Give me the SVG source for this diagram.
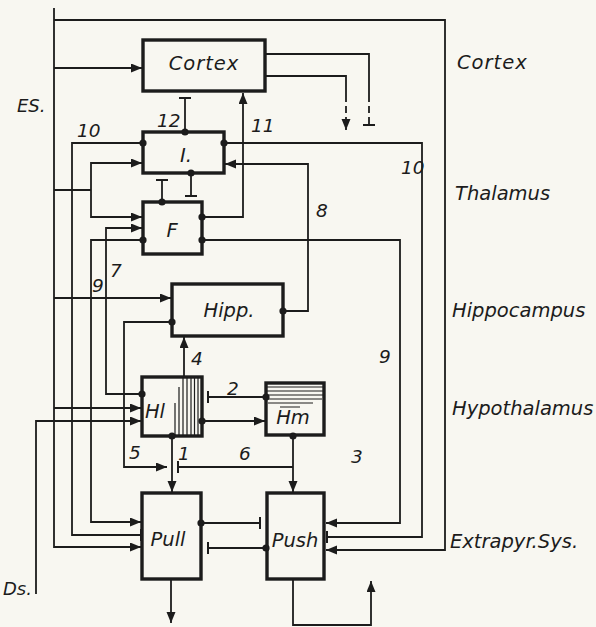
<svg xmlns="http://www.w3.org/2000/svg" width="596" height="627" viewBox="0 0 596 627">
<defs>
<style>
.bg{fill:#f8f7f1}
.box{fill:none;stroke:#1c1c1c;stroke-width:3.4}
.c{fill:none;stroke:#1c1c1c;stroke-width:1.8}
.dash{stroke-dasharray:7 4}
.h{stroke:#1c1c1c;stroke-width:1.2}
.dot{fill:#1c1c1c}
text{font-family:"DejaVu Sans","Liberation Sans",sans-serif;font-style:italic;fill:#1c1c1c}
.lb{font-size:19.5px}
.num{font-size:18.5px}
.side{font-size:19.5px}
.io{font-size:18px}
</style>
<marker id="arr" markerUnits="userSpaceOnUse" markerWidth="12" markerHeight="10" refX="11" refY="4.5" orient="auto" viewBox="0 0 12 10">
<path d="M0,0 L11,4.5 L0,9 z" fill="#1c1c1c"/>
</marker>
<marker id="bar" markerUnits="userSpaceOnUse" markerWidth="4" markerHeight="14" refX="1" refY="6" orient="auto" viewBox="0 0 4 14">
<path d="M1,0 V12" stroke="#1c1c1c" stroke-width="2" fill="none" stroke-dasharray="none"/>
</marker>
</defs>
<rect class="bg" x="0" y="0" width="596" height="627"/>

<g id="connectors">
<path class="c" d="M54,8 V547 H141" marker-end="url(#arr)"/>
<path class="c" d="M54,20 H445 V550 H326" marker-end="url(#arr)"/>
<path class="c" d="M54,68 H142" marker-end="url(#arr)"/>
<path class="c" d="M54,190 H91"/>
<path class="c" d="M91,190 V163 H142" marker-end="url(#arr)"/>
<path class="c" d="M91,190 V217 H142" marker-end="url(#arr)"/>
<path class="c" d="M54,298 H171" marker-end="url(#arr)"/>
<path class="c" d="M54,408 H141" marker-end="url(#arr)"/>
<path class="c" d="M36,594 V421 H141" marker-end="url(#arr)"/>
<path class="c" d="M143,143 H72 V535 H141" marker-end="url(#bar)"/>
<path class="c" d="M224,143 H422 V537 H327" marker-end="url(#bar)"/>
<path class="c" d="M143,240 H91 V522 H141" marker-end="url(#arr)"/>
<path class="c" d="M202,240 H400 V523 H326" marker-end="url(#arr)"/>
<path class="c" d="M202,217 H243 V93" marker-end="url(#arr)"/>
<path class="c" d="M185,132 V98" marker-end="url(#bar)"/>
<path class="c" d="M191,173 V196" marker-end="url(#bar)"/>
<path class="c" d="M162,202 V180" marker-end="url(#bar)"/>
<path class="c" d="M283,311 H308 V164 H225" marker-end="url(#arr)"/>
<path class="c" d="M142,394 H106 V228 H142" marker-end="url(#arr)"/>
<path class="c" d="M172,322 H124 V467 H167" marker-end="url(#arr)"/>
<path class="c" d="M184,377 V337" marker-end="url(#arr)"/>
<path class="c" d="M202,421 H265" marker-end="url(#arr)"/>
<path class="c" d="M266,397 H208" marker-end="url(#bar)"/>
<path class="c" d="M172,436 V492" marker-end="url(#arr)"/>
<path class="c" d="M293,436 V492" marker-end="url(#arr)"/>
<path class="c" d="M293,467 H178" marker-end="url(#bar)"/>
<path class="c" d="M201,523 H260" marker-end="url(#bar)"/>
<path class="c" d="M266,548 H208" marker-end="url(#bar)"/>
<path class="c" d="M171,579 V623" marker-end="url(#arr)"/>
<path class="c" d="M293,579 V625 H371 V581" marker-end="url(#arr)"/>
<path class="c" d="M265,54 H369 V95"/>
<path class="c dash" d="M369,95 V125" marker-end="url(#bar)"/>
<path class="c" d="M265,76 H346 V95"/>
<path class="c dash" d="M346,95 V130" marker-end="url(#arr)"/>
<g id="junctions">
<circle class="dot" cx="143" cy="143" r="3.6"/>
<circle class="dot" cx="224" cy="143" r="3.6"/>
<circle class="dot" cx="185" cy="132" r="3.6"/>
<circle class="dot" cx="191" cy="173" r="3.6"/>
<circle class="dot" cx="162" cy="202" r="3.6"/>
<circle class="dot" cx="143" cy="240" r="3.6"/>
<circle class="dot" cx="202" cy="240" r="3.6"/>
<circle class="dot" cx="202" cy="217" r="3.6"/>
<circle class="dot" cx="283" cy="311" r="3.6"/>
<circle class="dot" cx="172" cy="322" r="3.6"/>
<circle class="dot" cx="142" cy="394" r="3.6"/>
<circle class="dot" cx="202" cy="421" r="3.6"/>
<circle class="dot" cx="172" cy="436" r="3.6"/>
<circle class="dot" cx="266" cy="397" r="3.6"/>
<circle class="dot" cx="293" cy="436" r="3.6"/>
<circle class="dot" cx="201" cy="523" r="3.6"/>
<circle class="dot" cx="266" cy="548" r="3.6"/>
</g>
</g>

<g id="cortex">
<rect class="box" x="143" y="40" width="122" height="51"/>
<text class="lb" x="204" y="70" text-anchor="middle" letter-spacing="1">Cortex</text>
</g>
<g id="thalamus-I">
<rect class="box" x="143" y="132" width="81" height="41"/>
<text class="lb" x="186" y="162" text-anchor="middle">I.</text>
</g>
<g id="thalamus-F">
<rect class="box" x="143" y="202" width="59" height="52"/>
<text class="lb" x="172" y="237" text-anchor="middle">F</text>
</g>
<g id="hipp">
<rect class="box" x="172" y="284" width="111" height="52"/>
<text class="lb" x="229" y="317" text-anchor="middle">Hipp.</text>
</g>
<g id="hl">
<rect class="box" x="142" y="377" width="60" height="59"/>
<path class="h" d="M175,403 V436 M179,387 V436 M183,377 V436 M187,377 V436 M191,377 V436 M194.5,377 V436 M198,377 V436"/>
<text class="lb" x="155" y="418" text-anchor="middle">Hl</text>
</g>
<g id="hm">
<rect class="box" x="266" y="383" width="58" height="52"/>
<path class="h" d="M266,387 H324 M266,391 H324 M266,395 H324 M266,399 H322 M268,403 H313 M280,407 H300"/>
<text class="lb" x="293" y="424" text-anchor="middle">Hm</text>
</g>
<g id="pull">
<rect class="box" x="142" y="493" width="59" height="86"/>
<text class="lb" x="168" y="546" text-anchor="middle">Pull</text>
</g>
<g id="push">
<rect class="box" x="267" y="493" width="57" height="86"/>
<text class="lb" x="295" y="547" text-anchor="middle">Push</text>
</g>

<g id="labels">
<text class="num" x="77" y="137">10</text>
<text class="num" x="157" y="127">12</text>
<text class="num" x="251" y="132">11</text>
<text class="num" x="401" y="174">10</text>
<text class="num" x="316" y="217">8</text>
<text class="num" x="92" y="292">9</text>
<text class="num" x="110" y="277">7</text>
<text class="num" x="379" y="363">9</text>
<text class="num" x="191" y="365">4</text>
<text class="num" x="227" y="395">2</text>
<text class="num" x="129" y="459">5</text>
<text class="num" x="178" y="460">1</text>
<text class="num" x="239" y="460">6</text>
<text class="num" x="351" y="463">3</text>
<text class="io" x="17" y="112">ES.</text>
<text class="io" x="3" y="595">Ds.</text>
<text class="side" x="457" y="69" letter-spacing="1">Cortex</text>
<text class="side" x="455" y="200">Thalamus</text>
<text class="side" x="452" y="317">Hippocampus</text>
<text class="side" x="452" y="415">Hypothalamus</text>
<text class="side" x="450" y="548">Extrapyr.Sys.</text>
</g>
</svg>
